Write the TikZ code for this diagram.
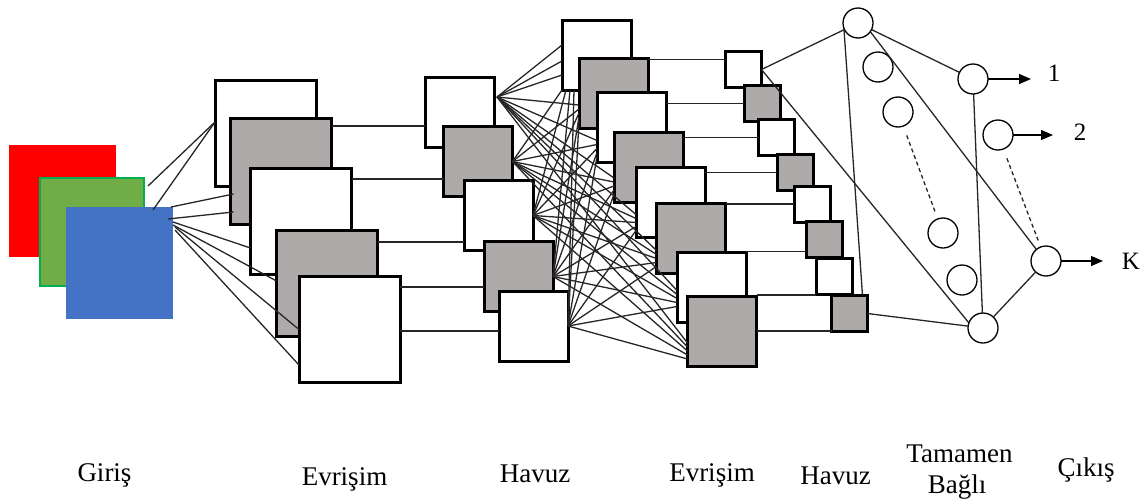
\documentclass[tikz,border=0pt]{standalone}
\usepackage{fontspec}
\setmainfont{Liberation Serif}
\usetikzlibrary{arrows.meta}
\definecolor{boxgray}{HTML}{AEAAAA}
\definecolor{inred}{HTML}{FF0000}
\definecolor{ingreen}{HTML}{70AD47}
\definecolor{ingreenline}{HTML}{00B050}
\definecolor{inblue}{HTML}{4472C4}
\begin{document}
\begin{tikzpicture}[x=1pt,y=-1pt,
  fm/.style={rectangle,draw=black,line width=3pt,inner sep=0pt,outer sep=0pt},
  wbox/.style={fm,fill=white},
  gbox/.style={fm,fill=boxgray},
  bigsz/.style={minimum width=101pt,minimum height=106pt},
  midsz/.style={minimum width=69pt,minimum height=70pt},
  smlsz/.style={minimum width=36pt,minimum height=36pt},
  inbox/.style={rectangle,inner sep=0pt,outer sep=0pt},
  neuron/.style={circle,draw=black,line width=1.3pt,fill=white,minimum size=30pt,inner sep=0pt,outer sep=0pt},
  conn/.style={draw=black!85,line width=1.3pt},
  dotconn/.style={conn,dash pattern=on 4pt off 3pt},
  outarrow/.style={draw=black,line width=1.3pt,-{Triangle[length=12pt,width=10pt]}},
  lbl/.style={font=\fontsize{27}{31}\selectfont,anchor=base,inner sep=0pt},
  numlbl/.style={font=\fontsize{25}{29}\selectfont,inner sep=0pt}
]
\useasboundingbox (0,0) rectangle (1146,501);

% input channels
\node[inbox,fill=inred,minimum width=107pt,minimum height=112pt] (inR) at (62.5,201) {};
\node[inbox,fill=ingreen,draw=ingreenline,line width=2pt,minimum width=104pt,minimum height=108pt] (inG) at (92,232) {};
\node[inbox,fill=inblue,minimum width=107pt,minimum height=112pt] (inB) at (119.5,263) {};

% first convolution
\node[wbox,bigsz] (A1) at (265.5,133.5) {};
\node[gbox,bigsz] (A2) at (281,171.5) {};
\node[wbox,bigsz] (A3) at (301,221.5) {};
\node[gbox,bigsz] (A4) at (327,283.5) {};
\node[wbox,bigsz] (A5) at (349.5,329.5) {};

% first pooling
\node[wbox,midsz] (P1) at (459.5,112) {};
\node[gbox,midsz] (P2) at (478,161.5) {};
\node[wbox,midsz] (P3) at (498.5,215.5) {};
\node[gbox,midsz] (P4) at (518.5,276.5) {};
\node[wbox,midsz] (P5) at (533.5,326) {};

% second convolution
\node[wbox,midsz] (C1) at (596.5,55) {};
\node[gbox,midsz] (C2) at (613.5,93) {};
\node[wbox,midsz] (C3) at (631.5,127.5) {};
\node[gbox,midsz] (C4) at (648.5,167) {};
\node[wbox,midsz] (C5) at (670.5,202.5) {};
\node[gbox,midsz] (C6) at (691,238.5) {};
\node[wbox,midsz] (C7) at (711.5,287.5) {};
\node[gbox,midsz] (C8) at (722,331) {};

% second pooling
\node[wbox,smlsz] (Q1) at (743.5,69.5) {};
\node[gbox,smlsz] (Q2) at (762,103.5) {};
\node[wbox,smlsz] (Q3) at (776.5,137.5) {};
\node[gbox,smlsz] (Q4) at (795,172.5) {};
\node[wbox,smlsz] (Q5) at (812,204) {};
\node[gbox,smlsz] (Q6) at (824,239.5) {};
\node[wbox,smlsz] (Q7) at (834,276) {};
\node[gbox,smlsz] (Q8) at (849.5,313.5) {};

% fully connected neurons
\node[neuron] (F1) at (858,23) {};
\node[neuron] (F2) at (878,67) {};
\node[neuron] (F3) at (898,112) {};
\node[neuron] (F4) at (943,233) {};
\node[neuron] (F5) at (962,280) {};
\node[neuron] (F6) at (983,328) {};
\node[neuron] (O1) at (973,79) {};
\node[neuron] (O2) at (998,135) {};
\node[neuron] (OK) at (1046,261) {};

% input -> first convolution
\coordinate (s1) at (148,186);
\coordinate (s2) at (153,210);
\coordinate (s3) at (171,207);
\coordinate (s4) at (168,219);
\coordinate (s5) at (173,222);
\coordinate (s6) at (173,225);
\coordinate (s7) at (175,227);
\coordinate (s8) at (175,230);
\draw[conn] (s1) -- ([yshift=11.5pt]A1.west);
\draw[conn] (s2) -- ([yshift=11.5pt]A1.west);
\draw[conn] (s3) -- ([xshift=3pt,yshift=-22.5pt]A2.west);
\draw[conn] (s4) -- ([xshift=3pt,yshift=-40.5pt]A2.west);
\draw[conn] (s5) -- ([yshift=-26.5pt]A3.west);
\draw[conn] (s6) -- ([yshift=2.5pt]A4.west);
\draw[conn] (s7) -- (A5.west);
\draw[conn] (s8) -- ([yshift=-35.5pt]A5.west);

% first convolution -> first pooling
\draw[conn] ([yshift=-14pt]P1.west -| A2.east) -- ([yshift=-14pt]P1.west);
\draw[conn] ([yshift=-17.5pt]P2.west -| A3.east) -- ([yshift=-17.5pt]P2.west);
\draw[conn] ([yshift=-26.5pt]P3.west -| A4.east) -- ([yshift=-26.5pt]P3.west);
\draw[conn] ([yshift=-10.5pt]P4.west -| A5.east) -- ([yshift=-10.5pt]P4.west);
\draw[conn] ([yshift=-5pt]P5.west -| A5.east) -- ([yshift=-5pt]P5.west);

% first pooling -> second convolution (dense fan)
\coordinate (H1) at ([xshift=3pt,yshift=15pt]P1.east);
\coordinate (H2) at (P2.east);
\coordinate (H3) at (P3.east);
\coordinate (H4) at (P4.east);
\coordinate (H5) at (P5.east);
\coordinate (T1) at ([xshift=3pt]C1.south west);
\coordinate (T1a) at ([yshift=3pt]C1.west);
\coordinate (T1b) at ([yshift=-13pt]C1.west);
\coordinate (T1c) at ([yshift=-27pt]C1.west);
\coordinate (T2) at ([yshift=-19pt]C2.west);
\coordinate (T3) at ([yshift=-20pt]C3.west);
\coordinate (T4) at ([yshift=-18pt]C4.west);
\coordinate (T5) at ([yshift=-19pt]C5.west);
\coordinate (T6) at ([yshift=-19pt]C6.west);
\coordinate (T7) at ([yshift=-10pt]C7.west);
\coordinate (T8) at ([yshift=-19pt]C8.west);
\foreach \t in {T1a,T1b,T1c,T2,T3,T4,T5,T6,T7,T8} \draw[conn] (H1) -- ([yshift=7pt]\t);
\foreach \h/\dy in {H2/3,H3/-1,H4/-5,H5/-9} {
  \draw[conn] (\h) -- ([xshift=-\dy pt]T1);
  \foreach \t in {T2,T3,T4,T5,T6,T7,T8} \draw[conn] (\h) -- ([yshift=\dy pt]\t);
}

% second convolution -> second pooling
\draw[conn] ([yshift=10pt]Q1.west -| C2.east) -- ([yshift=10pt]Q1.west);
\draw[conn] (Q2.west -| C3.east) -- (Q2.west);
\draw[conn] (Q3.west -| C4.east) -- (Q3.west);
\draw[conn] (Q4.west -| C5.east) -- (Q4.west);
\draw[conn] (Q5.west -| C6.east) -- (Q5.west);
\draw[conn] ([yshift=-12pt]Q6.west -| C7.east) -- ([yshift=-12pt]Q6.west);
\draw[conn] ([yshift=-19pt]Q7.west -| C8.east) -- ([yshift=-19pt]Q7.west);
\draw[conn] ([yshift=-17.5pt]Q8.west -| C8.east) -- ([yshift=-17.5pt]Q8.west);

% fully connected part
\draw[conn] (Q1.east) -- (F1);
\draw[conn] (Q1.east) -- (F6.160);
\draw[conn] (Q8.east) -- (F6);
\draw[conn] (F1.200) -- ([xshift=-5pt]Q8.north east);
\draw[conn] (F1) -- (O1);
\draw[conn] (F1.-35) -- (OK.130);
\draw[conn] (O1) -- (F6);
\draw[conn] (F6) -- (OK);
\draw[dotconn,shorten <=10pt,shorten >=7pt] (F3) -- (F4);
\draw[dotconn,shorten <=10pt,shorten >=7pt] (O2) -- (OK);

% outputs
\coordinate (e1) at (1031,79);
\coordinate (e2) at (1053,135);
\coordinate (eK) at (1103,261);
\draw[outarrow] (O1.east) -- (e1);
\draw[outarrow] (O2.east) -- (e2);
\draw[outarrow] (OK.east) -- (eK);
\node[numlbl] (n1) at (1054,73.5) {1};
\node[numlbl] (n2) at (1080,132) {2};
\node[numlbl] (nK) at (1131,261) {K};

% layer labels
\node[lbl] (lgiris) at (104.5,481.5) {Giriş};
\node[lbl] (lconv1) at (344.5,485) {Evrişim};
\node[lbl] (lpool1) at (535,482.5) {Havuz};
\node[lbl] (lconv2) at (712,481.5) {Evrişim};
\node[lbl] (lpool2) at (835.5,484) {Havuz};
\node[lbl] (lfc1) at (959.5,462) {Tamamen};
\node[lbl] (lfc2) at (957,493) {Bağlı};
\node[lbl] (lout) at (1086,476.5) {Çıkış};
\end{tikzpicture}
\end{document}
